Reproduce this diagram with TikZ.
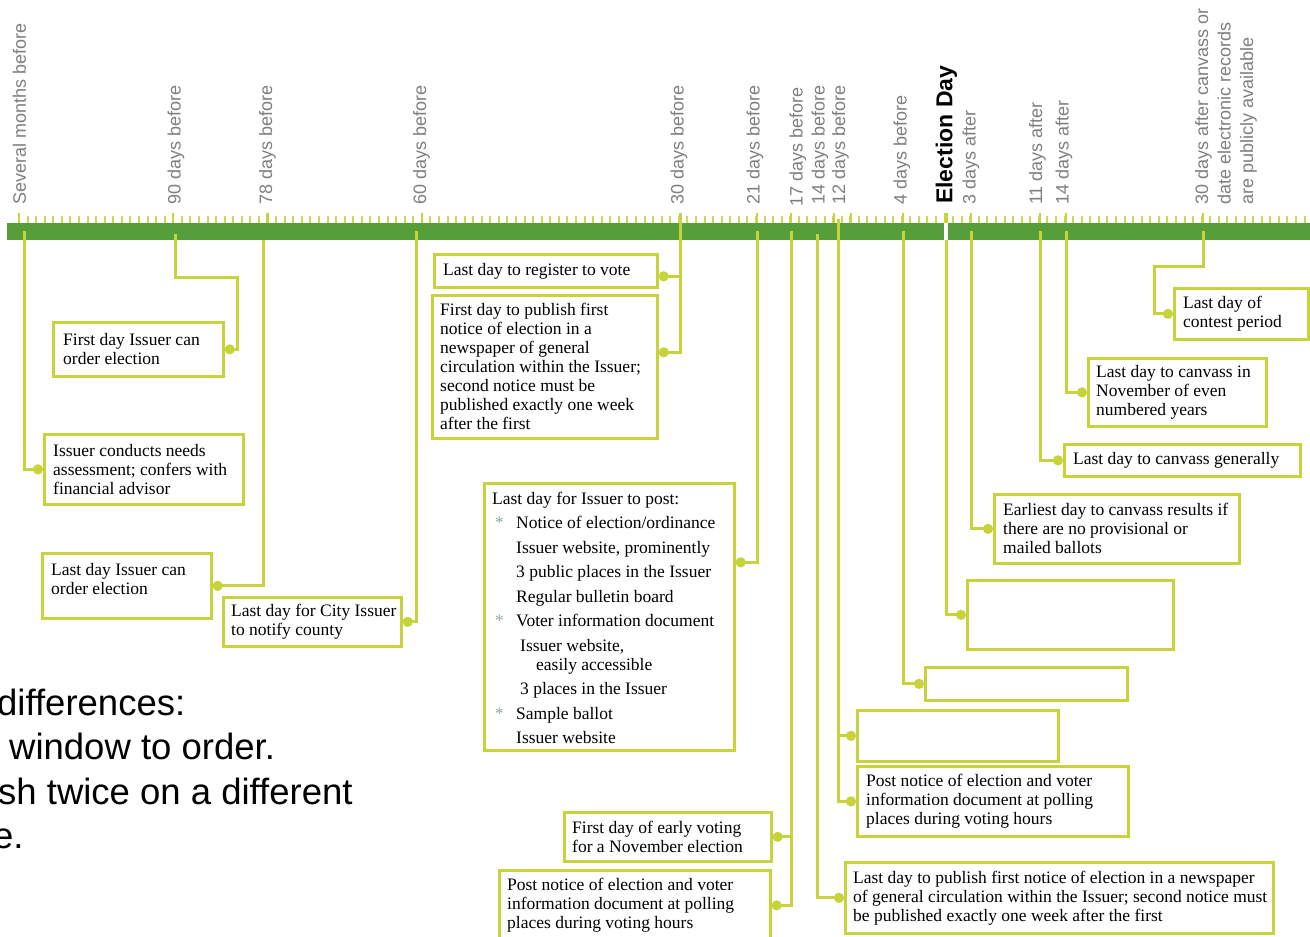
\documentclass[tikz,border=0pt]{standalone}
\usepackage{fontspec}
\setmainfont{Liberation Serif}
\setsansfont{Liberation Sans}
\usetikzlibrary{arrows.meta}
\definecolor{barGreen}{HTML}{559E3A}
\definecolor{lineGreen}{HTML}{C6D33A}
\definecolor{tickGreen}{HTML}{CDD85A}
\definecolor{labelGrey}{HTML}{7F7F7F}
\definecolor{bulletGrey}{HTML}{8FAAAA}
\newcommand{\postBullet}{\makebox[24pt][l]{\hspace{3pt}\textcolor{bulletGrey}{*}}}

\begin{document}
\begin{tikzpicture}[x=1pt,y=-1pt,%%
  boxStyle/.style={draw=lineGreen,line width=2.7pt,anchor=north west,inner sep=0pt},%%
  boxTextStyle/.style={anchor=west,inner sep=0pt,align=left,font=\fontsize{17.5}{19}\selectfont},%%
  connectorStyle/.style={lineGreen,line width=3pt,-{Circle[length=10pt,width=10pt]}},%%
  dayLabelStyle/.style={rotate=90,anchor=west,inner sep=0pt,text=labelGrey,font=\sffamily\fontsize{18}{22.5}\selectfont},%%
  tickStyle/.style={tickGreen,line width=2pt},%%
  majorTickStyle/.style={lineGreen,line width=2.5pt},%%
  noteStyle/.style={anchor=base west,inner sep=0pt,font=\sffamily\fontsize{36.5}{44}\selectfont}%%
]
%%
%%
\pgfmathsetmacro{\tickStart}{19}
\pgfmathsetmacro{\tickGap}{8.57}
\pgfmathsetmacro{\barTop}{223}
\pgfmathsetmacro{\barBottom}{240}
\pgfmathsetmacro{\labelBase}{205}
%%
\useasboundingbox (0,0) rectangle (1310,937);
\clip (0,0) rectangle (1310,937);
\fill[white] (0,0) rectangle (1310,937);
%% Draw the timeline bar and its ticks.
\fill[barGreen] (7,\barTop) rectangle (1310,\barBottom);
\fill[white] (944,\barTop) rectangle (948,\barBottom);
\foreach \k in {0,...,150}
  \draw[tickStyle] ({\tickStart+\tickGap*\k},216) -- ++(0,7);
\foreach \xMajor in {19,173,267.6,422,680,757,791,834,851,903,971,1040,1066,1203}
  \draw[majorTickStyle] (\xMajor,213) -- ++(0,10);
\draw[majorTickStyle,line width=4pt] (946,213) -- ++(0,10);
%% Label the days.
\node[dayLabelStyle] (labSeveral) at (19.5,\labelBase) {Several months before};
\node[dayLabelStyle] (lab90) at (176,\labelBase) {90 days before};
\node[dayLabelStyle] (lab78) at (267.5,\labelBase) {78 days before};
\node[dayLabelStyle] (lab60) at (421.5,\labelBase) {60 days before};
\node[dayLabelStyle] (lab30) at (679,\labelBase) {30 days before};
\node[dayLabelStyle] (lab21) at (755,\labelBase) {21 days before};
\node[dayLabelStyle] (lab17) at (798,207) {17 days before};
\node[dayLabelStyle] (lab14) at (820,\labelBase) {14 days before};
\node[dayLabelStyle] (lab12) at (840.5,\labelBase) {12 days before};
\node[dayLabelStyle] (lab4) at (902,\labelBase) {4 days before};
\node[dayLabelStyle,text=black,font=\sffamily\bfseries\fontsize{23}{27}\selectfont] (labElection) at (946.5,204) {Election Day};
\node[dayLabelStyle] (lab3a) at (971,\labelBase) {3 days after};
\node[dayLabelStyle] (lab11a) at (1037.5,\labelBase) {11 days after};
\node[dayLabelStyle] (lab14a) at (1064,\labelBase) {14 days after};
\node[dayLabelStyle,align=left] (lab30a) at (1226,\labelBase) {30 days after canvass or\\date electronic records\\are publicly available};
%% The event boxes.
\node[boxStyle,minimum width=199pt,minimum height=70pt] (needsBox) at (43,433) {};
\node[boxStyle,minimum width=170pt,minimum height=54pt] (orderFirstBox) at (52,321) {};
\node[boxStyle,minimum width=169pt,minimum height=65pt] (orderLastBox) at (41,552) {};
\node[boxStyle,minimum width=178pt,minimum height=49pt] (notifyBox) at (222,596) {};
\node[boxStyle,minimum width=223pt,minimum height=33pt] (registerBox) at (433,253) {};
\node[boxStyle,minimum width=225pt,minimum height=143pt] (publishFirstBox) at (431,294) {};
\node[boxStyle,minimum width=250pt,minimum height=267pt] (postBox) at (483,482) {};
\node[boxStyle,minimum width=207pt,minimum height=49pt] (earlyBox) at (563,811) {};
\node[boxStyle,minimum width=271pt,minimum height=70pt] (pollLeftBox) at (498,869) {};
\node[boxStyle,minimum width=428pt,minimum height=71pt] (publishLastBox) at (844,861) {};
\node[boxStyle,minimum width=271pt,minimum height=70pt] (pollRightBox) at (856,765) {};
\node[boxStyle,minimum width=201pt,minimum height=51pt] (emptyBoxA) at (856,709) {};
\node[boxStyle,minimum width=202pt,minimum height=33pt] (emptyBoxB) at (924,666) {};
\node[boxStyle,minimum width=206pt,minimum height=69pt] (emptyBoxC) at (966,579) {};
\node[boxStyle,minimum width=245pt,minimum height=69pt] (earliestBox) at (993,493) {};
\node[boxStyle,minimum width=236pt,minimum height=32pt] (canvassBox) at (1063,443) {};
\node[boxStyle,minimum width=178pt,minimum height=68pt] (canvassNovBox) at (1087,357) {};
\node[boxStyle,minimum width=134pt,minimum height=51pt] (contestBox) at (1173,287) {};
%% The texts in the boxes.
\node[boxTextStyle] (needsText) at ([xshift=10pt]needsBox.west) {Issuer conducts needs\\assessment; confers with\\financial advisor};
\node[boxTextStyle] (orderFirstText) at ([xshift=11pt]orderFirstBox.west) {First day Issuer can\\order election};
\node[boxTextStyle] (orderLastText) at ([xshift=10pt,yshift=7pt]orderLastBox.west) {Last day Issuer can\\order election};
\node[boxTextStyle] (notifyText) at ([xshift=9pt]notifyBox.west) {Last day for City Issuer\\to notify county};
\node[boxTextStyle] (registerText) at ([xshift=10pt]registerBox.west) {Last day to register to vote};
\node[boxTextStyle] (publishFirstText) at ([xshift=9pt]publishFirstBox.west) {First day to publish first\\notice of election in a\\newspaper of general\\circulation within the Issuer;\\second notice must be\\published exactly one week\\after the first};
\node[boxTextStyle,font=\fontsize{17.5}{24.5}\selectfont] (postText) at ([xshift=9pt,yshift=-1pt]postBox.west) {Last day for Issuer to post:\\
\postBullet Notice of election/ordinance\\
\hspace*{24pt}Issuer website, prominently\\
\hspace*{24pt}3 public places in the Issuer\\
\hspace*{24pt}Regular bulletin board\\
\postBullet Voter information document\\
\hspace*{28pt}Issuer website,\\[-5.5pt]
\hspace*{44pt}easily accessible\\
\hspace*{28pt}3 places in the Issuer\\
\postBullet Sample ballot\\
\hspace*{24pt}Issuer website};
\node[boxTextStyle] (earlyText) at ([xshift=9pt]earlyBox.west) {First day of early voting\\for a November election};
\node[boxTextStyle] (pollLeftText) at ([xshift=9pt]pollLeftBox.west) {Post notice of election and voter\\information document at polling\\places during voting hours};
\node[boxTextStyle] (publishLastText) at ([xshift=9pt]publishLastBox.west) {Last day to publish first notice of election in a newspaper\\of general circulation within the Issuer; second notice must\\be published exactly one week after the first};
\node[boxTextStyle] (pollRightText) at ([xshift=10pt]pollRightBox.west) {Post notice of election and voter\\information document at polling\\places during voting hours};
\node[boxTextStyle] (earliestText) at ([xshift=10pt]earliestBox.west) {Earliest day to canvass results if\\there are no provisional or\\mailed ballots};
\node[boxTextStyle] (canvassText) at ([xshift=10pt]canvassBox.west) {Last day to canvass generally};
\node[boxTextStyle] (canvassNovText) at ([xshift=9pt]canvassNovBox.west) {Last day to canvass in\\November of even\\numbered years};
\node[boxTextStyle] (contestText) at ([xshift=10pt]contestBox.west) {Last day of\\contest period};
%% Connectors from the timeline to the boxes.
\coordinate (tSeveral) at (24,231);
\coordinate (t90) at (175.5,234);
\coordinate (t78) at (263,240);
\coordinate (t60) at (416.5,231);
\coordinate (t30) at (680,213);
\coordinate (t21) at (757,231);
\coordinate (t17) at (791,231);
\coordinate (t14) at (817,234);
\coordinate (t12) at (838,219);
\coordinate (t4) at (903,231);
\coordinate (tElection) at (946,240);
\coordinate (t3a) at (971,231);
\coordinate (t11a) at (1040,231);
\coordinate (t14a) at (1066,231);
\coordinate (t30a) at (1203,231);
\draw[connectorStyle] (tSeveral) |- (needsBox.west);
\draw[connectorStyle] (t90) |- (237,277) |- (orderFirstBox.east);
\draw[connectorStyle] (t78) |- (orderLastBox.east);
\draw[connectorStyle] (t60) |- (notifyBox.east);
\draw[connectorStyle] (t30) |- ([yshift=-5.5pt]registerBox.east);
\draw[connectorStyle] (t30) |- ([yshift=14.5pt]publishFirstBox.east);
\draw[connectorStyle] (t21) |- ([yshift=54.5pt]postBox.east);
\draw[connectorStyle] (t17) |- (earlyBox.east);
\draw[connectorStyle] (t17) |- (pollLeftBox.east);
\draw[connectorStyle] (t14) |- (publishLastBox.west);
\draw[connectorStyle] (t12) |- (emptyBoxA.west);
\draw[connectorStyle] (t12) |- (pollRightBox.west);
\draw[connectorStyle] (t4) |- (emptyBoxB.west);
\draw[connectorStyle] (tElection) |- (emptyBoxC.west);
\draw[connectorStyle] (t3a) |- (earliestBox.west);
\draw[connectorStyle] (t11a) |- (canvassBox.west);
\draw[connectorStyle] (t14a) |- (canvassNovBox.west);
\draw[connectorStyle] (t30a) |- (1154,266) |- (contestBox.west);
%% The note cut at the left edge.
\node[noteStyle] (noteA) at (-3,715) {differences:};
\node[noteStyle] (noteB) at (9,759) {window to order.};
\node[noteStyle] (noteC) at (-2,804) {sh twice on a different};
\node[noteStyle] (noteD) at (-7,848) {e.};
\end{tikzpicture}
\end{document}
